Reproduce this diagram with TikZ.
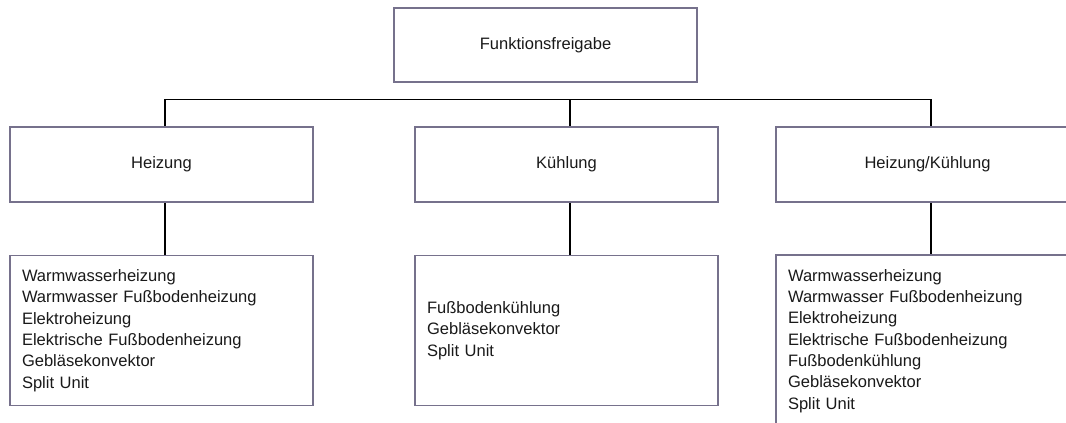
\documentclass[tikz,border=0pt]{standalone}
\usepackage{fontspec}
\setmainfont{Liberation Sans}
\definecolor{boxc}{RGB}{118,113,140}
\definecolor{txtc}{RGB}{25,25,25}
\begin{document}
\begin{tikzpicture}[x=0.75pt,y=-0.75pt,
  box/.style={draw=boxc,line width=1.3pt,rectangle,inner sep=0pt,
    minimum width=227.25pt,minimum height=56.25pt,text=txtc,
    font=\fontsize{12.4}{16}\selectfont},
  listbox/.style={draw=boxc,line width=1.3pt,rectangle,inner xsep=9pt,inner ysep=0pt,
    text width=209.25pt,align=left,minimum height=112.5pt,text=txtc,
    font=\fontsize{12.4}{16}\selectfont},
  conn/.style={draw=black,line width=1.1pt}]
\useasboundingbox (0,0) rectangle (1066,423);
\begin{scope}
\clip (0,0) rectangle (1066,423);
\node[box,minimum height=55.5pt] (top) at (545.5,45) {Funktionsfreigabe};
\node[box] (heiz) at (161.5,164.5) {Heizung};
\node[box] (kuehl) at (566.5,164.5) {Kühlung};
\node[box] (hk) at (927.5,164.5) {Heizung/Kühlung};
\node[listbox] (heizl) at (161.5,330.5) {Warmwasserheizung\\Warmwasser Fußbodenheizung\\Elektroheizung\\Elektrische Fußbodenheizung\\Gebläsekonvektor\\Split Unit};
\node[listbox] (kuehll) at (566.5,330.5) {Fußbodenkühlung\\Gebläsekonvektor\\Split Unit};
\node[listbox,minimum height=129pt] (hkl) at (927.5,341) {Warmwasserheizung\\Warmwasser Fußbodenheizung\\Elektroheizung\\Elektrische Fußbodenheizung\\Fußbodenkühlung\\Gebläsekonvektor\\Split Unit};
\end{scope}
\coordinate (b1) at (165,99.5);
\coordinate (b2) at (570,99.5);
\coordinate (b3) at (931,99.5);
\draw[conn] (b1) -- (b3);
\draw[conn] (b1) -- (b1 |- heiz.north);
\draw[conn] (b2) -- (b2 |- kuehl.north);
\draw[conn] (b3) -- (b3 |- hk.north);
\draw[conn] (b1 |- heiz.south) -- (b1 |- heizl.north);
\draw[conn] (b2 |- kuehl.south) -- (b2 |- kuehll.north);
\draw[conn] (b3 |- hk.south) -- (b3 |- hkl.north);
\end{tikzpicture}
\end{document}
